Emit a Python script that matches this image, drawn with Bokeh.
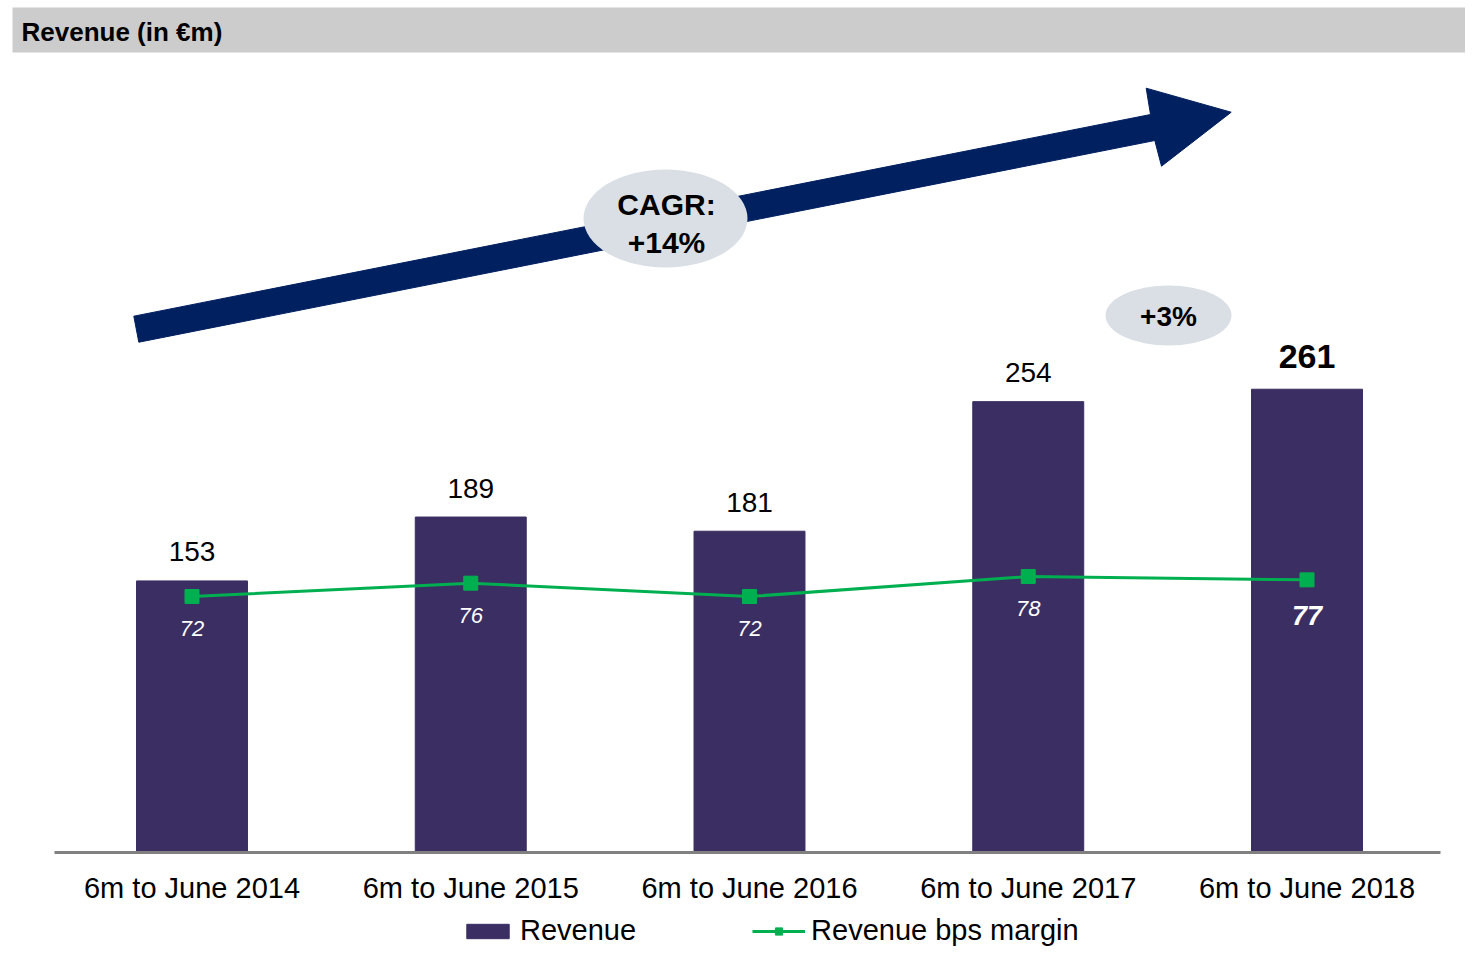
from bokeh.plotting import figure
from bokeh.models import Range1d, ColumnDataSource, Legend, LegendItem
from bokeh.core.properties import value
from bokeh.embed import file_html
from bokeh.resources import INLINE

# ---------------- data ----------------
periods = ["6m to June 2014", "6m to June 2015", "6m to June 2016",
           "6m to June 2017", "6m to June 2018"]
revenue = [153, 189, 181, 254, 261]
margin_bps = [72, 76, 72, 78, 77]
title_text = "Revenue (in €m)"
cagr_lines = ["CAGR:", "+14%"]
growth_text = "+3%"

# ---------------- layout helpers (canvas pixels -> data) ----------------
W, H = 1465, 947
X0, XS = 191.5, 278.75      # canvas px of first category centre, px per category
Y0, YS = 852.0, 1.775       # canvas px of revenue 0, px per EUR m
M0, MS = 836.0, 3.333       # canvas px of margin 0, px per bps

def dx(px):
    return (px - X0) / XS

def dy(py):
    return (Y0 - py) / YS

FONT = value("Liberation Sans")
BAR = "#3A2E62"
GREEN = "#00B050"
NAVY = "#002060"
BUBBLE = "#DADFE5"

p = figure(width=W, height=H, output_backend="svg", toolbar_location=None, title=None,
           x_range=Range1d(dx(0), dx(W)),
           y_range=Range1d(dy(H), dy(0)),
           min_border_left=0, min_border_right=0, min_border_top=0, min_border_bottom=0,
           x_axis_location=None, y_axis_location=None)
p.extra_y_ranges = {"margin": Range1d((M0 - H) / MS, M0 / MS)}
p.outline_line_color = None
p.xgrid.visible = False
p.ygrid.visible = False
p.background_fill_color = "white"
p.border_fill_color = "white"

idx = list(range(len(periods)))
src = ColumnDataSource(dict(x=idx, rev=revenue, mar=margin_bps, cat=periods,
                            base=[0] * len(periods)))

# title band
p.quad(left=dx(12), right=dx(1477), top=dy(7), bottom=dy(52), color="#CCCCCC", line_color=None)
p.text(x=dx(21), y=dy(31), text=[title_text], text_font=FONT, text_font_style="bold",
       text_font_size="26px", text_baseline="middle", text_align="left", text_color="black")

# arrow
ax = [133.3, 1150, 1145.7, 1230.7, 1161, 1154.3, 138.3]
ay = [315.7, 114, 87.7, 111.7, 165.7, 140, 341.7]
p.patch([dx(v) for v in ax], [dy(v) for v in ay], color=NAVY, line_color=NAVY)

# bubbles
p.ellipse(x=dx(665), y=dy(218), width=164, height=98, width_units="screen",
          height_units="screen", color=BUBBLE, line_color=None)
p.ellipse(x=dx(1168), y=dy(315), width=126, height=60, width_units="screen",
          height_units="screen", color=BUBBLE, line_color=None)
p.text(x=[dx(666), dx(666)], y=[dy(204), dy(242)], text=cagr_lines, text_font=FONT,
       text_font_style="bold", text_font_size="30px", text_align="center",
       text_baseline="middle", text_color="black")
p.text(x=dx(1168), y=dy(316), text=[growth_text], text_font=FONT, text_font_style="bold",
       text_font_size="28px", text_align="center", text_baseline="middle", text_color="black")

# bars
bars = p.vbar(x="x", top="rev", bottom=0, width=0.398, source=src, fill_color=BAR,
              line_color=BAR)

# baseline (category axis line)
p.segment(x0=dx(54), x1=dx(1440), y0=0, y1=0, line_color="#808080", line_width=3)

# category labels
p.text(x="x", y="base", text="cat", source=src, text_font=FONT, text_font_size="29px",
       text_align="center", text_baseline="middle", y_offset=35, text_color="black")

# revenue labels
p.text(x=idx[:-1], y=revenue[:-1], text=[str(v) for v in revenue[:-1]], text_font=FONT,
       text_font_size="28px", text_align="center", text_baseline="middle",
       y_offset=-29, text_color="black")
p.text(x=idx[-1:], y=revenue[-1:], text=[str(v) for v in revenue[-1:]], text_font=FONT,
       text_font_style="bold", text_font_size="34px", text_align="center",
       text_baseline="middle", y_offset=-33, text_color="black")

# margin line
mline = p.line(x="x", y="mar", source=src, y_range_name="margin", line_color=GREEN, line_width=3)
mpts = p.scatter(x="x", y="mar", source=src, y_range_name="margin", marker="square", size=14,
                 fill_color=GREEN, line_color=GREEN)
p.text(x=idx[:-1], y=margin_bps[:-1], text=[str(v) for v in margin_bps[:-1]],
       y_range_name="margin", text_font=FONT, text_font_style="italic", text_font_size="22px",
       text_align="center", text_baseline="middle", y_offset=32, text_color="white")
p.text(x=idx[-1:], y=margin_bps[-1:], text=[str(v) for v in margin_bps[-1:]],
       y_range_name="margin", text_font=FONT, text_font_style="bold italic",
       text_font_size="27px", text_align="center", text_baseline="middle", y_offset=36,
       text_color="white")

legend = Legend(items=[LegendItem(label="Revenue", renderers=[bars]),
                       LegendItem(label="Revenue bps margin", renderers=[mline, mpts])],
                orientation="horizontal", location=(461, 0), glyph_width=53,
                glyph_height=18, label_standoff=6, spacing=116, padding=0, margin=0,
                border_line_color=None, background_fill_alpha=0,
                label_text_font="Liberation Sans", label_text_font_size="29px",
                label_text_color="black")
p.add_layout(legend)

open("out.html", "w").write(file_html(p, INLINE))
